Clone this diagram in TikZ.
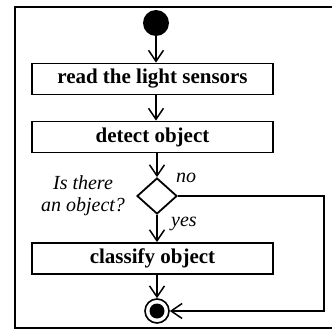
\documentclass[tikz,border=0pt]{standalone}
\usepackage{fontspec}
\setmainfont{Liberation Serif}
\usetikzlibrary{arrows.meta,shapes.geometric}
\begin{document}
\begin{tikzpicture}[x=1pt,y=-1pt,
  act/.style={draw, line width=1.8pt, minimum width=241pt, minimum height=31pt, inner sep=0pt,
    font=\fontsize{21}{24}\selectfont\bfseries},
  conn/.style={line width=1.5pt, -{Straight Barb[length=11pt,width=15pt]}},
  lbl/.style={font=\fontsize{20}{22}\selectfont\itshape, inner sep=0pt}]
\useasboundingbox (0,0) rectangle (332,329);
\clip (0,0) rectangle (332,329);
\draw[line width=1.8pt] (340,7) -- (15,7) -- (15,328) -- (340,328);
\node[circle, fill=black, minimum size=26pt, inner sep=0pt] (start) at (156,23) {};
\node[act] (read) at (152.5,79) {read the light sensors};
\node[act] (detect) at (152.5,137) {detect object};
\node[diamond, draw, line width=1.8pt, minimum width=40pt, minimum height=36pt, inner sep=0pt] (dec) at (157,196) {};
\node[act] (classify) at (152.5,258.5) {classify object};
\node[circle, draw, line width=1.6pt, minimum size=24pt, inner sep=0pt] (end) at (157,311) {};
\fill (end.center) circle (7.5pt);
\coordinate (corner) at (324,196);
\draw[conn] (start) -- (start |- read.north);
\draw[conn] (read.south -| start) -- (detect.north -| start);
\draw[conn] (detect.south -| dec) -- (dec.north);
\draw[conn] (dec.south) -- (classify.north -| dec);
\draw[conn] (classify.south -| end) -- (end.north);
\draw[conn] (dec.east) -- (corner) |- (end.east);
\node[lbl, align=center] (q) at (83,196) {Is there\\an object?};
\node[lbl] (no) at (186,178) {no};
\node[lbl] (yes) at (184,224) {yes};
\end{tikzpicture}
\end{document}
